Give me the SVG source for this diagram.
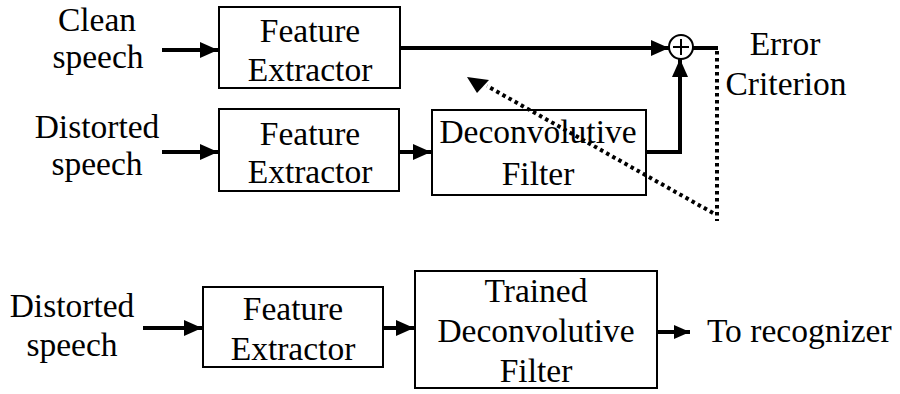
<svg xmlns="http://www.w3.org/2000/svg" width="900" height="394" viewBox="0 0 900 394">
<style>
.box{fill:#fff;stroke:#000;stroke-width:2}
.t{font-family:"Liberation Serif","Times New Roman",serif;font-size:33.5px;fill:#000;text-anchor:middle}
.ts{font-family:"Liberation Serif","Times New Roman",serif;font-size:33.5px;fill:#000}
.w{fill:none;stroke:#000;stroke-width:4}
.d{fill:none;stroke:#000;stroke-width:4;stroke-dasharray:3.5 3.5}
</style>
<defs>
<marker id="ah" markerUnits="userSpaceOnUse" markerWidth="20" markerHeight="16" refX="18" refY="8" orient="auto">
<path d="M0,0 L18,8 L0,16 Z" fill="#000"/>
</marker>
<marker id="ahs" markerUnits="userSpaceOnUse" markerWidth="18" markerHeight="14" refX="16" refY="7" orient="auto">
<path d="M0,0 L16,7 L0,14 Z" fill="#000"/>
</marker>
</defs>
<g id="label-clean">
<text class="t" x="97" y="31">Clean</text>
<text class="t" x="98" y="68">speech</text>
</g>
<g id="label-distorted1">
<text class="t" x="97" y="138">Distorted</text>
<text class="t" x="97" y="175">speech</text>
</g>
<g id="fe1">
<rect class="box" x="219" y="7" width="181" height="81"/>
<text class="t" x="310" y="42">Feature</text>
<text class="t" x="310" y="81">Extractor</text>
</g>
<g id="fe2">
<rect class="box" x="219" y="109" width="180" height="82"/>
<text class="t" x="310" y="145">Feature</text>
<text class="t" x="310" y="183">Extractor</text>
</g>
<g id="deconv">
<rect class="box" x="432" y="110" width="214" height="85"/>
<text class="t" x="538" y="143">Deconvolutive</text>
<text class="t" x="538" y="185">Filter</text>
</g>
<g id="sum">
<circle cx="681" cy="47" r="12" fill="#fff" stroke="#000" stroke-width="2"/>
<path d="M673,47 H689 M681,39 V55" stroke="#000" stroke-width="2"/>
</g>
<g id="label-error">
<text class="t" x="785" y="55">Error</text>
<text class="t" x="786" y="95">Criterion</text>
</g>
<g id="label-distorted2">
<text class="t" x="72" y="317">Distorted</text>
<text class="t" x="72" y="356">speech</text>
</g>
<g id="fe3">
<rect class="box" x="203" y="287" width="180" height="80"/>
<text class="t" x="293" y="320">Feature</text>
<text class="t" x="293" y="360">Extractor</text>
</g>
<g id="trained">
<rect class="box" x="415" y="271" width="242" height="117"/>
<text class="t" x="536" y="302">Trained</text>
<text class="t" x="536" y="342">Deconvolutive</text>
<text class="t" x="536" y="382">Filter</text>
</g>
<g id="label-recognizer">
<text class="ts" x="707" y="342">To recognizer</text>
</g>
<g id="connectors">
<line class="w" x1="162" y1="50" x2="218" y2="50" marker-end="url(#ah)"/>
<line class="w" x1="162" y1="152" x2="218" y2="152" marker-end="url(#ah)"/>
<line class="w" x1="400" y1="152" x2="431" y2="152" marker-end="url(#ah)"/>
<line class="w" x1="400" y1="48" x2="669" y2="48" marker-end="url(#ah)"/>
<polyline class="w" points="646,152 680,152 680,59" marker-end="url(#ah)"/>
<line class="w" x1="693" y1="48" x2="718" y2="48"/>
<line class="d" x1="717" y1="51" x2="717" y2="221"/>
<line class="d" x1="713" y1="213" x2="487" y2="86"/>
<polygon points="467,77 489,80 477,93" fill="#000"/>
<line class="w" x1="143" y1="328" x2="202" y2="328" marker-end="url(#ah)"/>
<line class="w" x1="383" y1="328" x2="414" y2="328" marker-end="url(#ah)"/>
<line class="w" x1="657" y1="332" x2="690" y2="332" marker-end="url(#ahs)"/>
</g>
</svg>
